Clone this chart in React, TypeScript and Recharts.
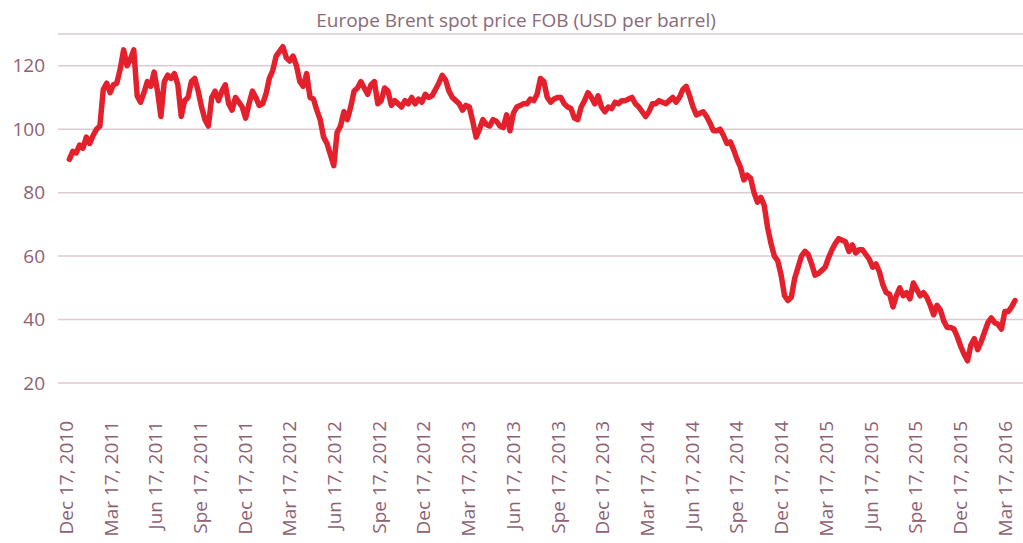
import React from "react";
import { LineChart, Line, XAxis, YAxis, CartesianGrid } from "recharts";

// Weekly Brent spot price readings (USD per barrel), week 1 .. week 280 after Dec 17, 2010
const prices: number[] = [
  90.5, 93, 92.5, 95, 94, 97.5, 95.5, 98, 100, 101,
  112.5, 114.5, 111.5, 114, 114.5, 119, 125, 120, 122, 125,
  110.5, 108.5, 111.5, 115, 113.5, 118, 112, 104, 115, 117,
  116, 117.5, 114, 104, 109, 110, 115, 116, 112, 107,
  103, 101, 110, 112, 109, 112, 114, 108, 106, 110,
  108.5, 107, 103.5, 108, 112, 110, 107.5, 108, 111, 116,
  118.5, 123, 124.5, 126, 122.5, 121.5, 123, 120, 115, 113.5,
  117.5, 110, 109.5, 106, 103, 97.5, 95.5, 92, 88.5, 99,
  101, 105.5, 103, 107, 112, 113, 115, 113, 111, 114,
  115, 108, 109, 113, 112, 107.5, 109, 108, 107, 109,
  108, 110, 108, 109.5, 108.5, 111, 110, 110.5, 112.5, 114.5,
  117, 115.5, 112, 110, 109, 108, 106, 107.5, 107, 102.5,
  97.5, 100, 103, 101.5, 101, 103, 102.5, 101, 100.5, 104.5,
  99.5, 105, 107, 107.5, 108, 108, 109.5, 109, 111, 116,
  115, 110, 108.5, 109.5, 110, 110, 108, 107, 106.5, 103.5,
  103, 107, 109, 111.5, 110, 108, 110.5, 107, 105.5, 107,
  106.5, 108.5, 108, 109, 109, 109.5, 110, 108, 107, 105.5,
  104, 105.5, 108, 108, 109, 108.5, 108, 109, 110, 108.5,
  110, 112.5, 113.5, 110.5, 107, 104.5, 105, 105.5, 104, 102,
  99.5, 99.5, 100, 98, 95.5, 96, 93.5, 90.5, 88, 84,
  85.5, 84.5, 80, 77, 78.5, 76, 69, 64, 60, 58.5,
  54, 47.5, 46, 47, 53, 56.5, 60, 61.5, 60.5, 57.5,
  54, 54.5, 55.5, 56.5, 59.5, 62, 64, 65.5, 65, 64.5,
  61.5, 63.5, 61, 62, 62, 60.5, 59, 56.5, 57.5, 55,
  51, 48.5, 48, 44, 47.5, 50, 47.5, 48.5, 46.5, 51.5,
  49.5, 47.5, 48.5, 47, 44.5, 41.5, 44.5, 43, 39.5, 37.5,
  37.5, 37, 34.5, 31.5, 29, 27, 32, 34, 30.5, 33,
  36, 39, 40.5, 39, 38.5, 37, 42.5, 42.5, 44, 46,
];

const tickLabels: string[] = [
  "Dec 17, 2010", "Mar 17, 2011", "Jun 17, 2011", "Spe 17, 2011",
  "Dec 17, 2011", "Mar 17, 2012", "Jun 17, 2012", "Spe 17, 2012",
  "Dec 17, 2012", "Mar 17, 2013", "Jun 17, 2013", "Spe 17, 2013",
  "Dec 17, 2013", "Mar 17, 2014", "Jun 17, 2014", "Spe 17, 2014",
  "Dec 17, 2014", "Mar 17, 2015", "Jun 17, 2015", "Spe 17, 2015",
  "Dec 17, 2015", "Mar 17, 2016",
];

const yTicks: number[] = [20, 40, 60, 80, 100, 120];

const TICK_STEP = 13.19; // weeks between labelled ticks
const xTicks = tickLabels.map((_, i) => i * TICK_STEP);
const data = prices.map((v, i) => ({ t: i + 1, v }));

const TEXT = "#8f5f72";
const FONT = "'Open Sans', sans-serif";

const XTick = (props: any) => {
  const { x, y, payload } = props;
  const idx = Math.round(payload.value / TICK_STEP);
  return (
    <text
      transform={`translate(${x},${y}) rotate(-90)`}
      textAnchor="end"
      dy="0.36em"
      fill={TEXT}
      fontSize={19}
      fontFamily={FONT}
    >
      {tickLabels[idx]}
    </text>
  );
};

export default function App() {
  return (
    <div style={{ position: "absolute", left: 0, top: 0, width: 1023, height: 543, background: "#fff" }}>
      <div
        style={{
          position: "absolute",
          left: 0,
          top: 10,
          width: 1032,
          textAlign: "center",
          fontFamily: FONT,
          fontSize: 19,
          lineHeight: "20px",
          color: "#8a6a79",
        }}
      >
        Europe Brent spot price FOB (USD per barrel)
      </div>
      <LineChart
        width={1023}
        height={543}
        data={data}
        margin={{ top: 34, right: 0, left: 0, bottom: 0 }}
      >
        <CartesianGrid vertical={false} stroke="#dccbd2" strokeWidth={1.5} />
        <XAxis
          dataKey="t"
          type="number"
          domain={[0, 280]}
          ticks={xTicks}
          interval={0}
          padding={{ left: 8, right: 8 }}
          axisLine={false}
          tickLine={false}
          tickSize={0}
          tickMargin={38}
          height={160}
          tick={<XTick />}
        />
        <YAxis
          type="number"
          domain={[20, 130]}
          ticks={yTicks}
          interval={0}
          axisLine={false}
          tickLine={false}
          tickSize={0}
          tickMargin={13}
          width={58}
          tick={{ fill: TEXT, fontSize: 19, fontFamily: FONT }}
        />
        <Line
          type="linear"
          dataKey="v"
          stroke="#e3202b"
          strokeWidth={5.5}
          strokeLinejoin="round"
          strokeLinecap="round"
          dot={false}
          activeDot={false}
          isAnimationActive={false}
        />
      </LineChart>
    </div>
  );
}
